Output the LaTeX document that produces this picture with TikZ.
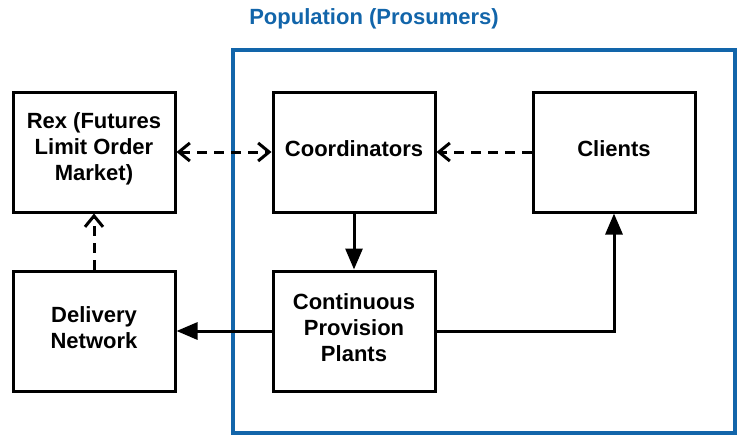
\documentclass[tikz,border=0pt]{standalone}
\usepackage{fontspec}
\setmainfont{Liberation Sans}
\usetikzlibrary{arrows.meta}
\definecolor{popblue}{RGB}{18,101,170}
\begin{document}
\begin{tikzpicture}[x=1pt,y=-1pt,
  boxtext/.style={align=center,font=\fontsize{22}{26}\selectfont\bfseries,inner sep=0pt},
  box/.style={draw=black,line width=3pt,minimum width=162pt,minimum height=120pt,inner sep=0pt,label={[boxtext,yshift=3.5pt]center:#1}},
  openhead/.tip={Straight Barb[length=11pt,width=18pt,line width=3pt]},
  dasharrow/.style={line width=3pt,dash pattern=on 10pt off 7pt,-openhead},
  solidarrow/.style={line width=3pt,-{Triangle[length=21pt,width=17pt]}}]
\useasboundingbox (0,0) rectangle (744,444);
\node[draw=popblue,line width=3.5pt,minimum width=502pt,minimum height=383pt,inner sep=0pt] (pop) at (484,241.5) {};
\node[text=popblue,font=\fontsize{22}{26}\selectfont\bfseries] (title) at (374,19) {Population (Prosumers)};
\node[box={Rex (Futures\\Limit Order\\Market)}] (rex) at (94,152) {};
\node[box={Coordinators}] (coord) at (354,152) {};
\node[box={Clients}] (clients) at (614,152) {};
\node[box={Delivery\\Network}] (deliv) at (94,331) {};
\node[box={Continuous\\Provision\\Plants}] (plants) at (354,331) {};
\draw[dasharrow,openhead-openhead] (rex.east) -- (coord.west);
\draw[dasharrow] (clients.west) -- (coord.east);
\draw[dasharrow] (deliv.north) -- (rex.south);
\draw[solidarrow] (coord.south) -- (plants.north);
\draw[solidarrow] (plants.west) -- (deliv.east);
\draw[solidarrow] (plants.east) -| (clients.south);
\end{tikzpicture}
\end{document}
